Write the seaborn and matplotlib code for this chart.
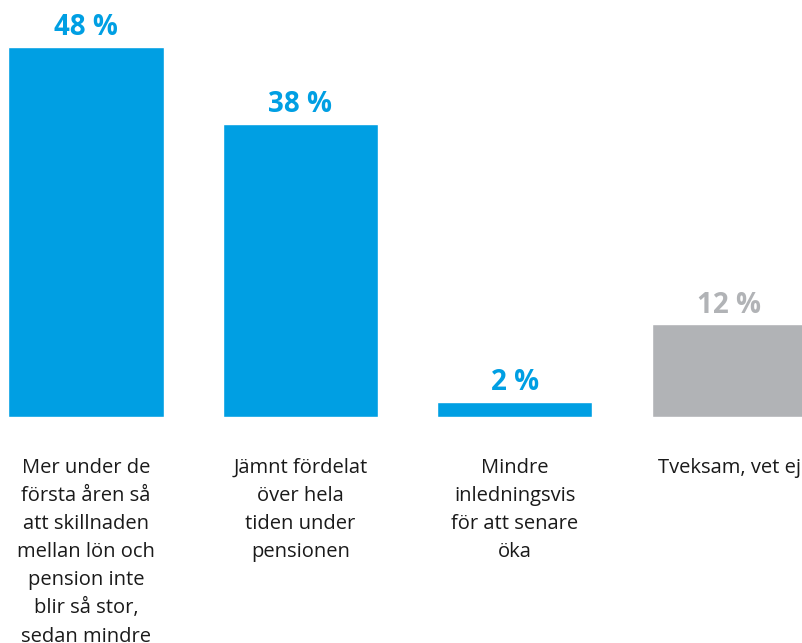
import pandas as pd
import seaborn as sns
import matplotlib.pyplot as plt
from matplotlib.transforms import blended_transform_factory

categories = [
    "Mer under de\nförsta åren så\natt skillnaden\nmellan lön och\npension inte\nblir så stor,\nsedan mindre",
    "Jämnt fördelat\növer hela\ntiden under\npensionen",
    "Mindre\ninledningsvis\nför att senare\nöka",
    "Tveksam, vet ej",
]
values = [48, 38, 2, 12]
value_labels = ["48 %", "38 %", "2 %", "12 %"]
colors = ["#009FE3", "#009FE3", "#009FE3", "#B1B3B6"]

data = pd.DataFrame({"category": categories, "value": values})

sns.set_style("white")
plt.rcParams['font.family'] = ['Open Sans', 'DejaVu Sans']

fig = plt.figure(figsize=(8.03, 6.43), dpi=100)
ax = fig.add_axes([0, 0.3515, 1, 0.6485])

sns.barplot(data=data, x="category", y="value", hue="category",
            palette=colors, width=0.723, saturation=1, legend=False, ax=ax)

ax.set_xlim(-0.401, 3.343)
ax.set_ylim(0, 54.1)
ax.set_xlabel("")
ax.set_ylabel("")
ax.set_xticks([])
ax.set_yticks([])
sns.despine(ax=ax, left=True, bottom=True, top=True, right=True)

for i, v in enumerate(values):
    ax.text(i, v + 0.6, value_labels[i], ha="center", va="bottom",
            fontsize=20, fontweight="bold", color=colors[i])

trans = blended_transform_factory(ax.transData, ax.transAxes)
for i, c in enumerate(categories):
    ax.text(i, -0.098, c, transform=trans, ha="center", va="top",
            fontsize=14.5, color="#1a1a1a", linespacing=1.54, clip_on=False)

fig.savefig("out.png", dpi=100)
